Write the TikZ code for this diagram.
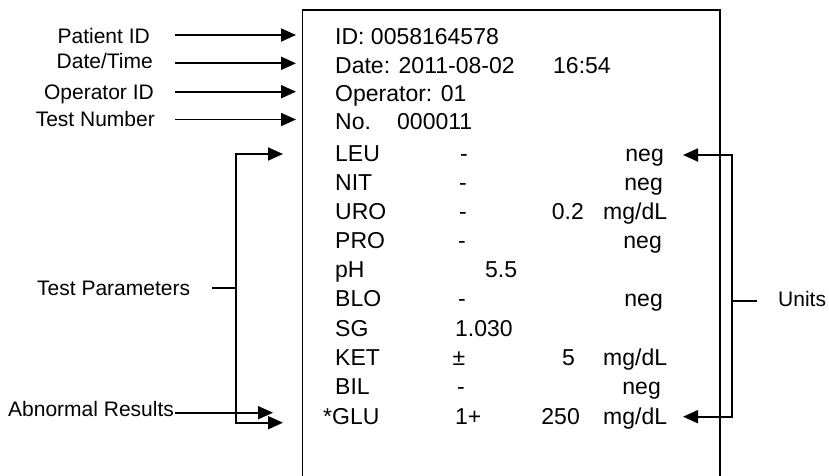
\documentclass[tikz,border=0pt]{standalone}
\usepackage{fontspec}
\setmainfont{Liberation Sans}
\usetikzlibrary{arrows.meta}
\begin{document}
\begin{tikzpicture}[x=1pt,y=-1pt,
  ln/.style={line width=1.8pt},
  arr/.style={line width=1.8pt,-{Triangle[length=15pt,width=13pt]}},
  bx/.style={anchor=base west,inner sep=0pt,font=\fontsize{23}{27}\selectfont},
  bxc/.style={anchor=base,inner sep=0pt,font=\fontsize{23}{27}\selectfont},
  bxe/.style={anchor=base east,inner sep=0pt,font=\fontsize{23}{27}\selectfont},
  lbe/.style={anchor=base east,inner sep=0pt,font=\fontsize{21}{25}\selectfont},
  lbw/.style={anchor=base west,inner sep=0pt,font=\fontsize{21}{25}\selectfont}]
\useasboundingbox (0,0) rectangle (829,475);
% box
\draw[line width=1.6pt] (302.5,476) -- (302.5,10) -- (720,10) -- (720,476);
% box text
\node[bx] (id) at (335,44.9) {ID: 0058164578};
\node[bx] (date) at (335,73.2) {Date: 2011-08-02};
\node[bx] (time) at (553,73.2) {16:54};
\node[bx] (op) at (335,101.5) {Operator: 01};
\node[bx] (no) at (335,129.9) {No.};
\node[bx] (nonum) at (397,129.9) {000011};
% rows
\node[bx] (leu) at (335,161.7) {LEU};
\node[bxc] (leud) at (464,161.7) {-};
\node[bxe] (leuu) at (664,161.7) {neg};
\node[bx] (nit) at (335,190.2) {NIT};
\node[bxc] (nitd) at (463,190.2) {-};
\node[bxe] (nitu) at (663,190.2) {neg};
\node[bx] (uro) at (335,219.2) {URO};
\node[bxc] (urod) at (463,219.2) {-};
\node[bxe] (urov) at (584,219.2) {0.2};
\node[bx] (urou) at (603,219.2) {mg/dL};
\node[bx] (pro) at (335,248.5) {PRO};
\node[bxc] (prod) at (462,248.5) {-};
\node[bxe] (prou) at (662,248.5) {neg};
\node[bx] (ph) at (335,277.7) {pH};
\node[bx] (phv) at (485,277.7) {5.5};
\node[bx] (blo) at (335,306.7) {BLO};
\node[bxc] (blod) at (462,306.7) {-};
\node[bxe] (blou) at (663,306.7) {neg};
\node[bx] (sg) at (335,336) {SG};
\node[bx] (sgv) at (455,336) {1.030};
\node[bx] (ket) at (335,365.2) {KET};
\node[bxc] (ketd) at (459,365.2) {±};
\node[bxe] (ketv) at (575,365.2) {5};
\node[bx] (ketu) at (603,365.2) {mg/dL};
\node[bx] (bil) at (335,394.9) {BIL};
\node[bxc] (bild) at (461,394.9) {-};
\node[bxe] (bilu) at (661,394.9) {neg};
\node[bx] (glu) at (323,424.5) {*GLU};
\node[bx] (gluv) at (455,424.5) {1+};
\node[bxe] (gluv2) at (580,424.5) {250};
\node[bx] (gluu) at (603,424.5) {mg/dL};
% labels
\node[lbe] (lpid) at (150,43.5) {Patient ID};
\node[lbe] (ldt) at (153,68.2) {Date/Time};
\node[lbe] (lop) at (154,99.2) {Operator ID};
\node[lbe] (ltn) at (155,126) {Test Number};
\node[lbw] (ltp) at (37,295.2) {Test Parameters};
\node[lbw] (lab) at (8,416.5) {Abnormal Results};
\node[lbw] (lun) at (778,306.5) {Units};
% arrow coordinates
\coordinate (a1s) at (175,35);   \coordinate (a1e) at (296,35);
\coordinate (a2s) at (175,63.3); \coordinate (a2e) at (296,63.3);
\coordinate (a3s) at (175,91.7); \coordinate (a3e) at (296,91.7);
\coordinate (a4s) at (175,119.5);\coordinate (a4e) at (296,119.5);
\draw[arr] (a1s) -- (a1e);
\draw[arr] (a2s) -- (a2e);
\draw[arr] (a3s) -- (a3e);
\draw[arr] (a4s) -- (a4e);
% left bracket
\coordinate (lbt) at (236,154);  \coordinate (lbtE) at (283,154);
\coordinate (lbb) at (236,422.7);\coordinate (lbbE) at (283,422.7);
\coordinate (lbm) at (236,287.7);\coordinate (lbmS) at (212,287.7);
\draw[arr] (lbb) -- (lbt) -- (lbtE);
\draw[arr] (lbt) -- (lbb) -- (lbbE);
\draw[ln] (lbmS) -- (lbm);
\coordinate (abs) at (175,412.7); \coordinate (abe) at (273,412.7);
\draw[arr] (abs) -- (abe);
% right bracket
\coordinate (rbt) at (732,155);  \coordinate (rbtE) at (683,155);
\coordinate (rbb) at (732,416.7);\coordinate (rbbE) at (683,416.7);
\coordinate (rbm) at (732,301);  \coordinate (rbmS) at (757,301);
\draw[arr] (rbb) -- (rbt) -- (rbtE);
\draw[arr] (rbt) -- (rbb) -- (rbbE);
\draw[ln] (rbm) -- (rbmS);
\end{tikzpicture}
\end{document}
